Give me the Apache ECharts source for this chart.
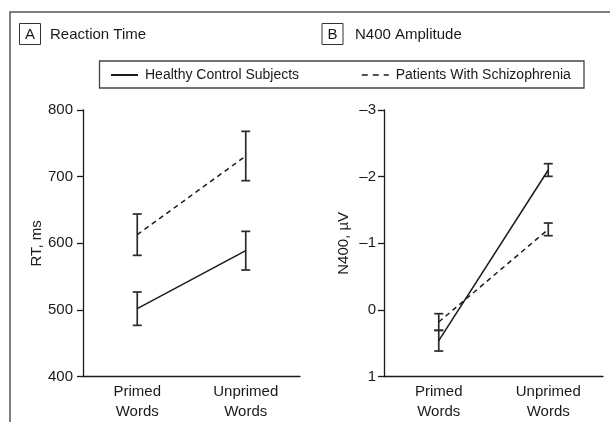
<!DOCTYPE html>
<html>
<head>
<meta charset="utf-8">
<script src="https://cdn.jsdelivr.net/npm/echarts@6/dist/echarts.min.js"></script>
<style>html,body{margin:0;padding:0;background:#fff}#c{width:610px;height:422px}</style>
</head>
<body>
<div id="c"></div>
<script>
const categories = ['Primed\nWords', 'Unprimed\nWords'];
const seriesNames = ['Healthy Control Subjects', 'Patients With Schizophrenia'];
// Panel A: reaction time (ms)
const rtHealthy = [502, 589];
const rtHealthyErr = [25, 29];
const rtPatients = [613, 731];
const rtPatientsErr = [31, 37];
const rtTicks = [400, 500, 600, 700, 800];
// Panel B: N400 amplitude (µV), axis inverted
const n400Healthy = [0.46, -2.1];
const n400HealthyErr = [0.155, 0.095];
const n400Patients = [0.18, -1.21];
const n400PatientsErr = [0.125, 0.095];
const n400Ticks = [-3, -2, -1, 0, 1];

const FONT = '"Liberation Sans Narrow", "Arial Narrow", "Liberation Sans", sans-serif';
const INK = '#1a1a1a';

function errData(means, errs) {
  return means.map((m, i) => [i, m - errs[i], m + errs[i]]);
}
function errSeries(xi, yi, means, errs) {
  return {
    type: 'custom', xAxisIndex: xi, yAxisIndex: yi, silent: true, z: 3,
    data: errData(means, errs),
    renderItem: function (params, api) {
      const lo = api.coord([api.value(0), api.value(1)]);
      const hi = api.coord([api.value(0), api.value(2)]);
      const w = 4.5;
      const st = { stroke: '#2a2a2a', lineWidth: 1.7 };
      return {
        type: 'group', children: [
          { type: 'line', shape: { x1: lo[0], y1: lo[1], x2: hi[0], y2: hi[1] }, style: st },
          { type: 'line', shape: { x1: lo[0] - w, y1: lo[1], x2: lo[0] + w, y2: lo[1] }, style: st },
          { type: 'line', shape: { x1: hi[0] - w, y1: hi[1], x2: hi[0] + w, y2: hi[1] }, style: st }
        ]
      };
    }
  };
}
function lineSeries(name, xi, yi, data, dashed) {
  return {
    name: name, type: 'line', xAxisIndex: xi, yAxisIndex: yi, data: data,
    symbol: 'none', silent: true, z: 4,
    lineStyle: { color: INK, width: 1.5, type: dashed ? [5, 4] : 'solid' },
    itemStyle: { color: INK }
  };
}
const axisLine = { show: true, onZero: false, lineStyle: { color: INK, width: 1.3 } };
const catAxis = (gi) => ({
  type: 'category', gridIndex: gi, data: categories, boundaryGap: true, position: 'bottom',
  axisLine: axisLine, axisTick: { show: false },
  axisLabel: { color: INK, fontFamily: FONT, fontSize: 15, lineHeight: 20, margin: 5, interval: 0 }
});
const legendCommon = {
  padding: 0, itemWidth: 27, itemHeight: 12, selectedMode: false,
  itemStyle: { opacity: 0, color: 'rgba(0,0,0,0)', borderWidth: 0 },
  textStyle: { fontFamily: FONT, fontSize: 14, color: INK, padding: [0, 0, 0, 2] }
};

const chart = echarts.init(document.getElementById('c'));
chart.setOption({
  animation: false,
  backgroundColor: '#fff',
  textStyle: { fontFamily: FONT },
  title: [
    { text: 'Reaction Time', left: 50, top: 27, padding: 0, textStyle: { fontFamily: FONT, fontSize: 15, fontWeight: 'normal', color: INK } },
    { text: 'N400 Amplitude', left: 355, top: 27, padding: 0, textStyle: { fontFamily: FONT, fontSize: 15, fontWeight: 'normal', color: INK } }
  ],
  legend: [
    Object.assign({ data: [seriesNames[0]], left: 110, top: 68 }, legendCommon),
    Object.assign({ data: [seriesNames[1]], left: 361, top: 68, lineStyle: { type: [6, 5], width: 1.5 } }, legendCommon)
  ],
  graphic: [
    { type: 'rect', shape: { x: 10, y: 12, width: 700, height: 500 }, style: { fill: 'none', stroke: '#555', lineWidth: 1.5 }, silent: true },
    { type: 'rect', shape: { x: 19.5, y: 23.5, width: 21, height: 21 }, style: { fill: 'none', stroke: '#333', lineWidth: 1 }, silent: true },
    { type: 'text', x: 30, y: 34.5, style: { text: 'A', fontFamily: FONT, fontSize: 15, fill: INK, align: 'center', verticalAlign: 'middle' }, silent: true },
    { type: 'rect', shape: { x: 322, y: 23.5, width: 21, height: 21 }, style: { fill: 'none', stroke: '#333', lineWidth: 1 }, silent: true },
    { type: 'text', x: 332.5, y: 34.5, style: { text: 'B', fontFamily: FONT, fontSize: 15, fill: INK, align: 'center', verticalAlign: 'middle' }, silent: true },
    { type: 'rect', shape: { x: 99.5, y: 61, width: 484.5, height: 27 }, style: { fill: 'none', stroke: '#444', lineWidth: 1.3 }, silent: true }
  ],
  grid: [
    { left: 83, right: 310, top: 110, bottom: 45.3, containLabel: false },
    { left: 384, right: 7, top: 110, bottom: 45.3, containLabel: false }
  ],
  xAxis: [catAxis(0), catAxis(1)],
  yAxis: [
    { type: 'value', gridIndex: 0, min: rtTicks[0], max: rtTicks[rtTicks.length - 1], interval: 100,
      name: 'RT, ms', nameLocation: 'middle', nameGap: 36, nameRotate: 90,
      nameTextStyle: { fontFamily: FONT, fontSize: 15, color: INK },
      axisLine: axisLine, axisTick: { show: true, length: 6, lineStyle: { color: INK, width: 1.3 } },
      splitLine: { show: false },
      axisLabel: { color: INK, fontFamily: FONT, fontSize: 15, margin: 10 } },
    { type: 'value', gridIndex: 1, min: n400Ticks[0], max: n400Ticks[n400Ticks.length - 1], interval: 1, inverse: true,
      name: 'N400, µV', nameLocation: 'middle', nameGap: 33, nameRotate: 90,
      nameTextStyle: { fontFamily: FONT, fontSize: 15, color: INK },
      axisLine: axisLine, axisTick: { show: true, length: 6, lineStyle: { color: INK, width: 1.3 } },
      splitLine: { show: false },
      axisLabel: { color: INK, fontFamily: FONT, fontSize: 15, margin: 8,
        formatter: function (v) { return String(v).replace('-', '\u2013'); } } }
  ],
  series: [
    lineSeries(seriesNames[0], 0, 0, rtHealthy, false),
    lineSeries(seriesNames[1], 0, 0, rtPatients, true),
    errSeries(0, 0, rtHealthy, rtHealthyErr),
    errSeries(0, 0, rtPatients, rtPatientsErr),
    lineSeries(seriesNames[0], 1, 1, n400Healthy, false),
    lineSeries(seriesNames[1], 1, 1, n400Patients, true),
    errSeries(1, 1, n400Healthy, n400HealthyErr),
    errSeries(1, 1, n400Patients, n400PatientsErr)
  ]
});
</script>
</body>
</html>
